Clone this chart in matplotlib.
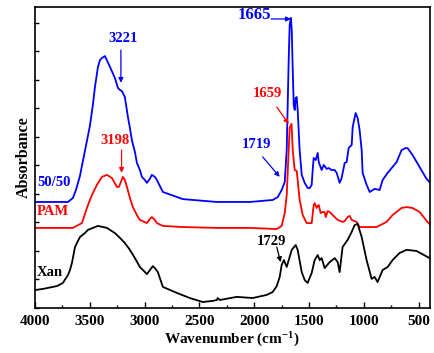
import numpy as np
import matplotlib
matplotlib.use("Agg")
import matplotlib.pyplot as plt
from matplotlib.ticker import MultipleLocator

plt.rcParams['font.family'] = ['Liberation Serif', 'DejaVu Serif']
plt.rcParams['font.weight'] = 'bold'
plt.rcParams['mathtext.fontset'] = 'custom'
plt.rcParams['mathtext.rm'] = 'Liberation Serif:bold'
plt.rcParams['mathtext.default'] = 'rm'

# 50/50 blend spectrum
wn_blend = [4000, 3699, 3654, 3626, 3590, 3544, 3499, 3471, 3453, 3426,
            3407, 3389, 3362, 3316, 3271, 3243, 3225, 3207, 3180, 3152, 3134, 3116,
            3088, 3070, 3043, 3024, 2997, 2979, 2952, 2934, 2906, 2888, 2833, 2651,
            2341, 2040, 1831, 1785, 1749, 1721, 1703, 1685, 1676, 1665, 1657, 1648,
            1639, 1630, 1621, 1612, 1603, 1585, 1566, 1539, 1512, 1493, 1475, 1466,
            1457, 1438, 1420, 1411, 1384, 1366, 1338, 1320, 1293, 1265, 1247, 1220,
            1202, 1174, 1156, 1138, 1110, 1101, 1074, 1056, 1038, 1019, 1010, 974,
            946, 901, 855, 828, 782, 700, 655, 618, 600, 555, 491, 427, 400]
ab_blend = [0.372, 0.372, 0.386, 0.414, 0.463, 0.552, 0.639, 0.715, 0.775, 0.845,
            0.870, 0.877, 0.884, 0.846, 0.807, 0.772, 0.765, 0.761, 0.740, 0.670, 0.632, 0.589,
            0.547, 0.509, 0.484, 0.460, 0.449, 0.439, 0.453, 0.467, 0.460, 0.449, 0.407, 0.382,
            0.372, 0.372, 0.379, 0.389, 0.414, 0.442, 0.554, 0.870, 0.993, 1.018, 0.975, 0.835,
            0.712, 0.695, 0.737, 0.740, 0.695, 0.554, 0.467, 0.439, 0.421, 0.421, 0.432, 0.484,
            0.526, 0.519, 0.544, 0.512, 0.484, 0.502, 0.488, 0.491, 0.484, 0.484, 0.474, 0.439,
            0.456, 0.509, 0.512, 0.561, 0.572, 0.635, 0.684, 0.667, 0.625, 0.554, 0.474, 0.432,
            0.407, 0.418, 0.414, 0.449, 0.474, 0.512, 0.554, 0.561, 0.561, 0.537, 0.495, 0.453,
            0.442]

# PAM spectrum
wn_pam = [4000, 3654, 3572, 3526, 3499, 3471, 3435, 3389, 3344, 3298, 3253, 3234,
          3216, 3198, 3180, 3161, 3134, 3107, 3070, 3043, 2979, 2952, 2934, 2906,
          2888, 2833, 2651, 2341, 2040, 1794, 1749, 1721, 1703, 1685, 1676, 1659,
          1648, 1630, 1612, 1603, 1585, 1557, 1521, 1475, 1457, 1448, 1430, 1420,
          1411, 1393, 1375, 1357, 1347, 1329, 1311, 1284, 1238, 1193, 1174, 1147,
          1129, 1110, 1065, 1038, 974, 883, 792, 737, 655, 609, 555, 491, 418, 400]
ab_pam = [0.281, 0.281, 0.298, 0.351, 0.379, 0.404, 0.432, 0.460, 0.467, 0.456, 0.425, 0.425,
          0.442, 0.460, 0.449, 0.425, 0.386, 0.354, 0.326, 0.309, 0.298, 0.312, 0.319, 0.309,
          0.298, 0.288, 0.284, 0.281, 0.281, 0.277, 0.288, 0.333, 0.396, 0.554, 0.632, 0.646,
          0.554, 0.484, 0.481, 0.449, 0.379, 0.326, 0.298, 0.298, 0.361, 0.368, 0.351, 0.358,
          0.361, 0.333, 0.337, 0.337, 0.319, 0.340, 0.337, 0.326, 0.309, 0.302, 0.305, 0.319,
          0.323, 0.309, 0.302, 0.284, 0.284, 0.284, 0.302, 0.326, 0.351, 0.354, 0.351, 0.337,
          0.302, 0.295]

# Xanthan spectrum
wn_xan = [4000, 3927, 3799, 3745, 3699, 3681, 3663, 3635, 3617, 3590, 3544, 3517,
          3426, 3344, 3271, 3225, 3180, 3134, 3088, 3043, 2979, 2952, 2924, 2906,
          2879, 2833, 2706, 2587, 2469, 2378, 2341, 2332, 2314, 2159, 2013, 1885,
          1831, 1794, 1767, 1749, 1729, 1703, 1657, 1621, 1603, 1566, 1539, 1512,
          1475, 1448, 1420, 1402, 1384, 1357, 1311, 1265, 1238, 1220, 1193, 1147,
          1110, 1083, 1056, 1019, 974, 928, 901, 874, 828, 782, 737, 673, 609, 518,
          418, 400]
ab_xan = [0.063, 0.067, 0.077, 0.088, 0.116, 0.133, 0.158, 0.214, 0.228, 0.249, 0.263, 0.274,
          0.288, 0.281, 0.263, 0.246, 0.228, 0.204, 0.175, 0.144, 0.119, 0.133, 0.147, 0.140,
          0.126, 0.074, 0.053, 0.035, 0.021, 0.025, 0.028, 0.035, 0.028, 0.039, 0.035, 0.046,
          0.056, 0.077, 0.109, 0.151, 0.168, 0.144, 0.204, 0.221, 0.204, 0.126, 0.098, 0.088,
          0.123, 0.168, 0.186, 0.168, 0.175, 0.140, 0.161, 0.175, 0.161, 0.126, 0.214, 0.239,
          0.267, 0.291, 0.295, 0.249, 0.168, 0.102, 0.109, 0.091, 0.133, 0.144, 0.168, 0.193,
          0.204, 0.200, 0.179, 0.175]

series_names = ['50/50', 'PAM', 'Xan']
series_colors = ['#0000ff', '#ff0000', '#000000']

fig = plt.figure(figsize=(4.34, 3.53), dpi=100)
ax = fig.add_axes([35 / 434, 45 / 353, 394.5 / 434, 301 / 353])

ax.plot(wn_blend, ab_blend, color=series_colors[0], lw=1.3)
ax.plot(wn_pam, ab_pam, color=series_colors[1], lw=1.3)
ax.plot(wn_xan, ab_xan, color=series_colors[2], lw=1.3)

ax.set_xlim(4000, 400)
ax.set_ylim(0, 1.056)

# curve labels on the left
ax.text(3982, 0.442, series_names[0], color=series_colors[0], fontsize=10.5,
        fontweight='bold', va='center', ha='left')
ax.text(3982, 0.340, series_names[1], color=series_colors[1], fontsize=10.5,
        fontweight='bold', va='center', ha='left')
ax.text(3982, 0.126, series_names[2], color=series_colors[2], fontsize=10.5,
        fontweight='bold', va='center', ha='left')

# peak annotations
arrow = dict(arrowstyle='-|>', lw=0.9, mutation_scale=7, shrinkA=0, shrinkB=0)

def mark(label, color, text_xy, start, end, size=10.5):
    ax.text(text_xy[0], text_xy[1], label, color=color, fontsize=size,
            fontweight='bold', ha='center', va='center')
    ax.annotate('', xy=end, xytext=start, arrowprops=dict(arrow, color=color))

mark('3221', series_colors[0], (3200, 0.944), (3216, 0.905), (3216, 0.790))
mark('3198', series_colors[1], (3271, 0.589), (3210, 0.554), (3210, 0.474))
mark('1665', series_colors[0], (1995, 1.028), (1845, 1.014), (1665, 1.014), size=12)
mark('1659', series_colors[1], (1876, 0.751), (1794, 0.705), (1685, 0.646))
mark('1719', series_colors[0], (1976, 0.572), (1922, 0.530), (1767, 0.460))
mark('1729', series_colors[2], (1840, 0.235), (1794, 0.214), (1758, 0.161))

ax.set_xlabel('Wavenumber (cm$^{-1}$)', fontsize=11, fontweight='bold', labelpad=2)
ax.set_ylabel('Absorbance', fontsize=11.5, fontweight='bold')
ax.yaxis.set_label_coords(-0.008, 0.5)

ax.xaxis.set_major_locator(MultipleLocator(500))
ax.xaxis.set_minor_locator(MultipleLocator(250))
ax.yaxis.set_major_locator(MultipleLocator(0.1))
ax.tick_params(axis='x', which='major', direction='in', length=4, width=1,
               labelsize=11, pad=5)
ax.tick_params(axis='x', which='minor', direction='in', length=2.5, width=1)
ax.tick_params(axis='y', which='major', direction='in', length=3, width=1,
               labelleft=False)
for lbl in ax.get_xticklabels():
    lbl.set_fontweight('bold')
for sp in ax.spines.values():
    sp.set_linewidth(1.2)

fig.savefig('out.png', dpi=100)
